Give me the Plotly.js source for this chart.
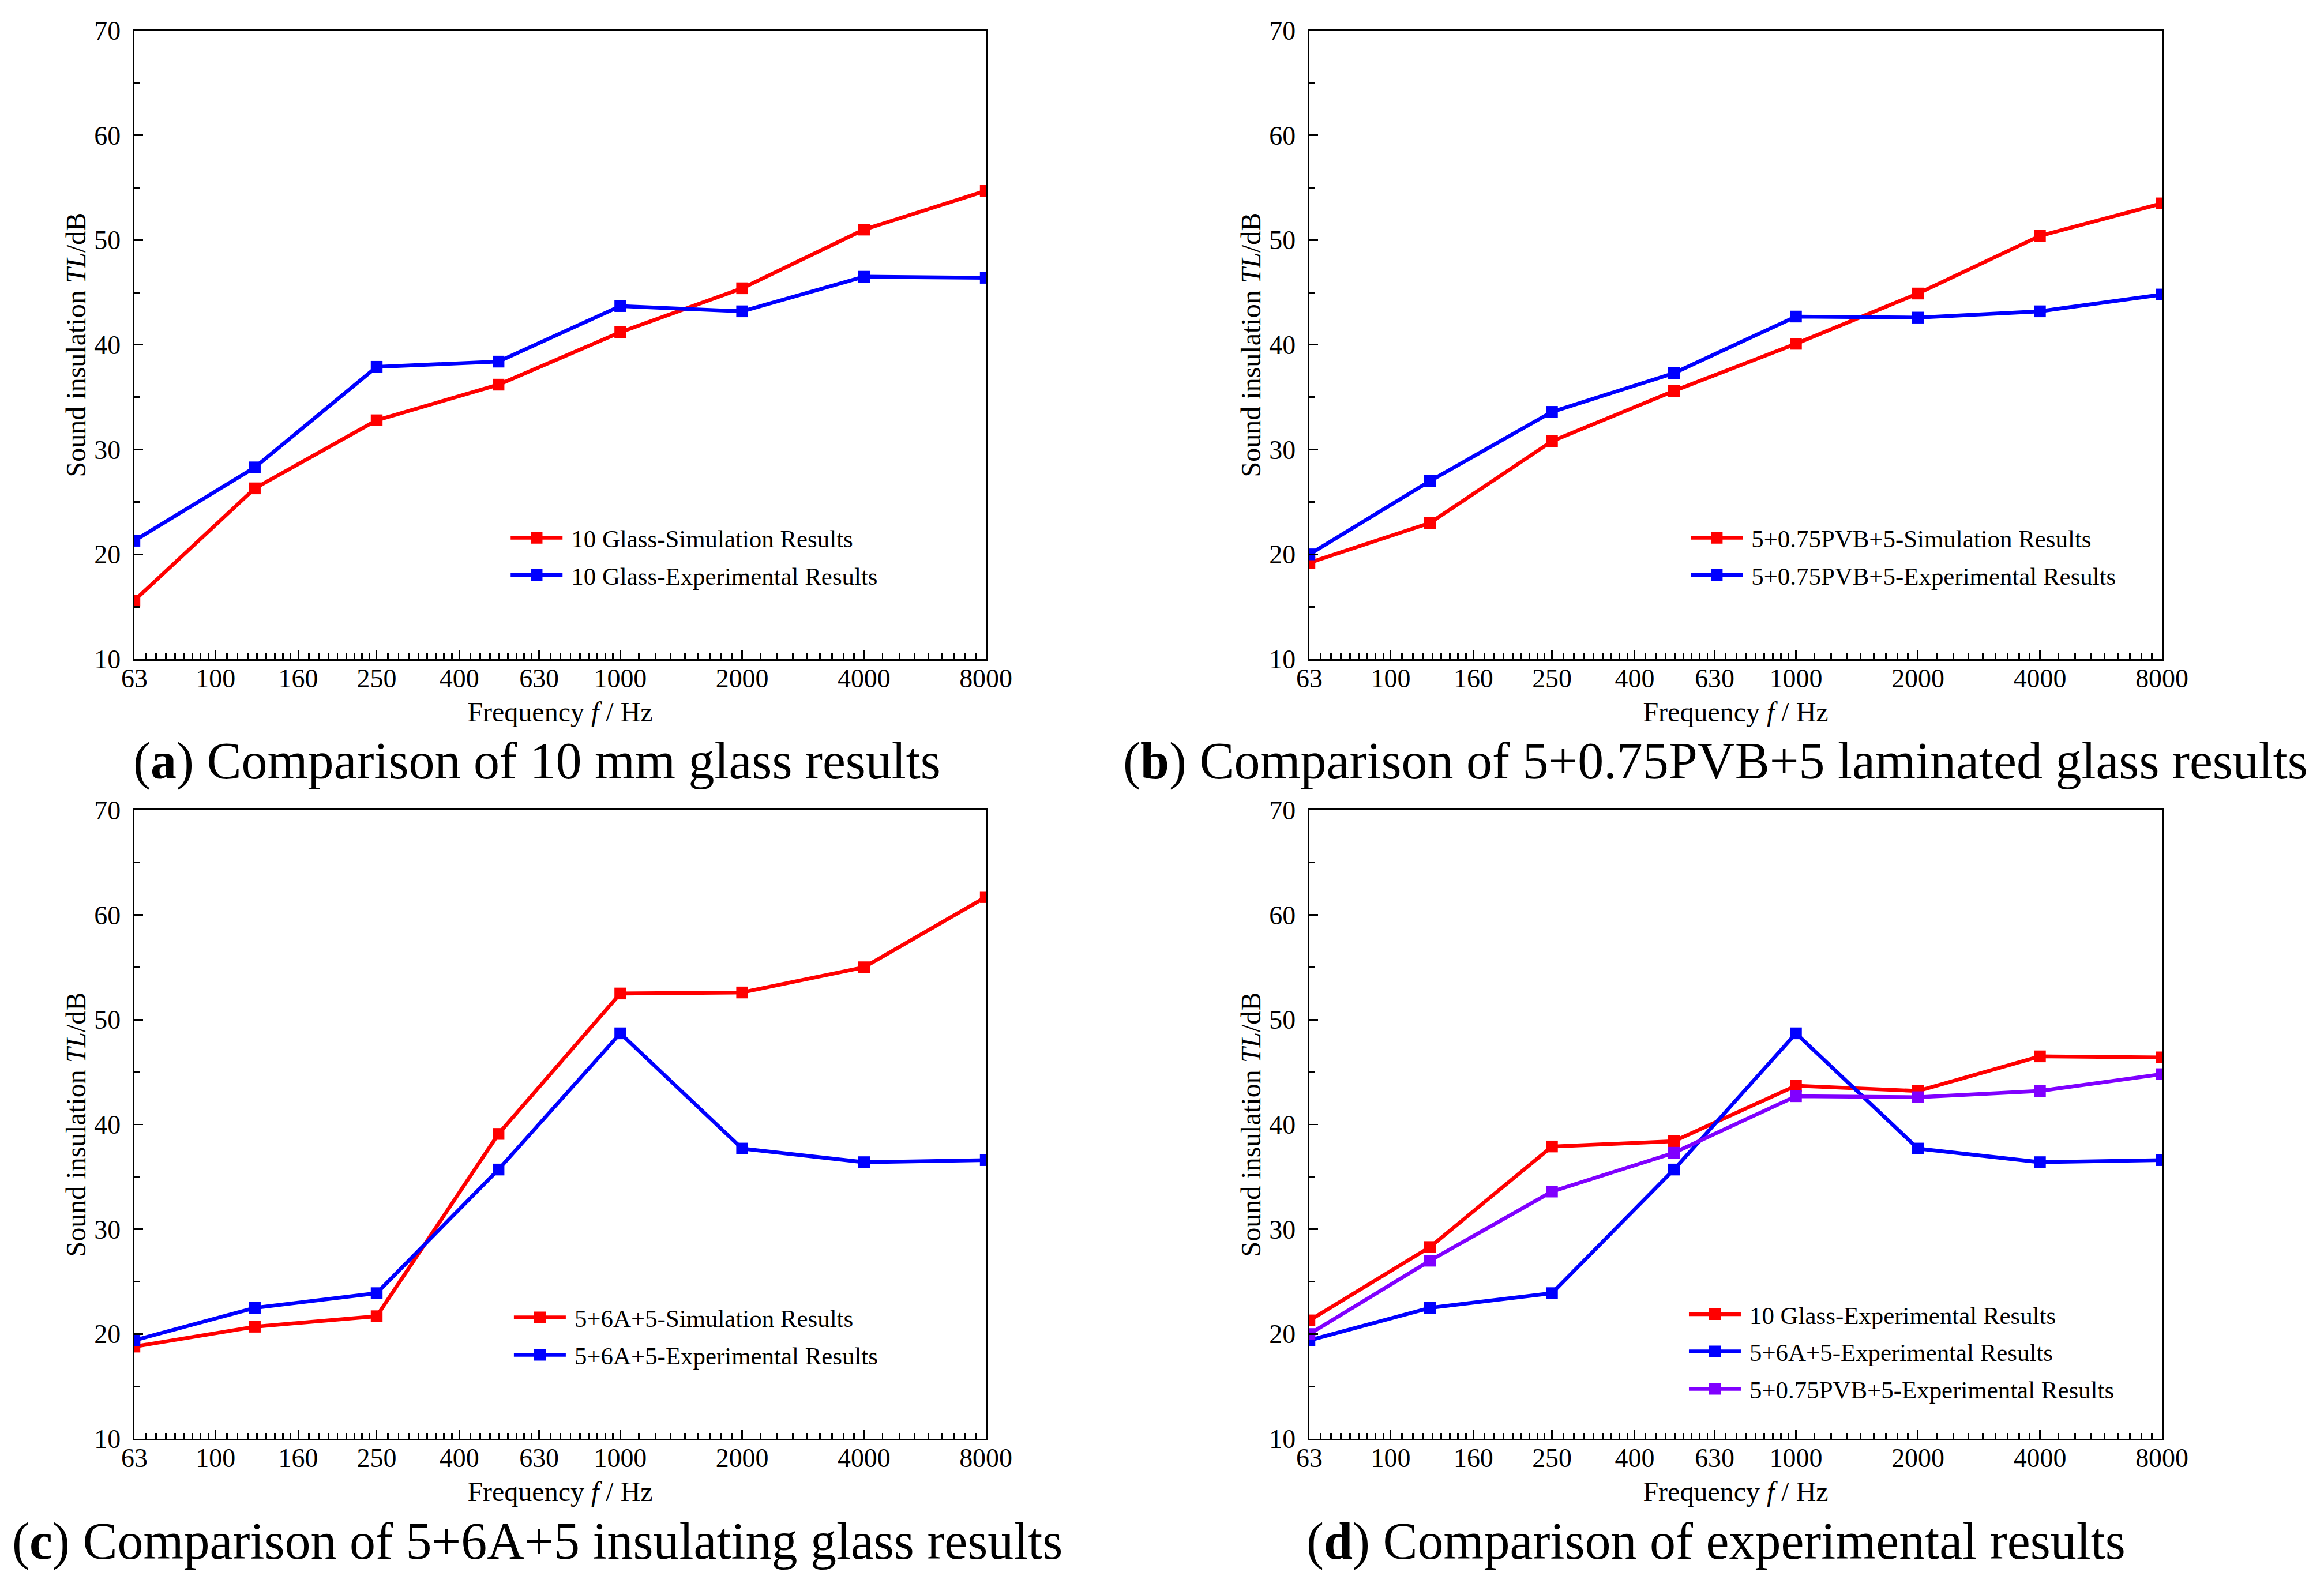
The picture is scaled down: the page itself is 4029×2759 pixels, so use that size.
<!DOCTYPE html>
<html>
<head>
<meta charset="utf-8">
<script src="https://cdn.plot.ly/plotly-3.0.1.min.js"></script>
<style>
  html, body { margin: 0; padding: 0; background: #fff; }
  #page { width: 4029px; height: 2759px; position: relative; overflow: hidden; }
  /* the figure is laid out at 1/3 size and scaled up so legend lines keep Origin-like proportions */
  #chart { position: absolute; left: 0; top: 0; width: 1343px; height: 920px;
           transform: scale(3); transform-origin: 0 0; }
</style>
</head>
<body>
<div id="page"><div id="chart"></div></div>
<script>
// frequencies (Hz) of the measured points
var freq = [63, 125, 250, 500, 1000, 2000, 4000, 8000];

// sound insulation TL (dB)
var glassSim = [15.6, 26.3, 32.8, 36.2, 41.2, 45.4, 51.0, 54.7];
var glassExp = [21.3, 28.3, 37.9, 38.4, 43.7, 43.2, 46.5, 46.4];
var pvbSim   = [19.2, 23.0, 30.8, 35.6, 40.1, 44.9, 50.4, 53.5];
var pvbExp   = [20.0, 27.0, 33.6, 37.3, 42.7, 42.6, 43.2, 44.8];
var insSim   = [18.8, 20.7, 21.7, 39.1, 52.5, 52.6, 55.0, 61.7];
var insExp   = [19.4, 22.5, 23.9, 35.7, 48.7, 37.7, 36.4, 36.6];

// axis ticks
var xTicks = [63, 100, 160, 250, 400, 630, 1000, 2000, 4000, 8000];
var yTicks = [10, 20, 30, 40, 50, 60, 70];

var captions = [
  '(<b>a</b>) Comparison of 10 mm glass results',
  '(<b>b</b>) Comparison of 5+0.75PVB+5 laminated glass results',
  '(<b>c</b>) Comparison of 5+6A+5 insulating glass results',
  '(<b>d</b>) Comparison of experimental results'
];

var FONT = '"Liberation Serif", "Times New Roman", serif';
var RED = '#ff0000', BLUE = '#0000ff', PURPLE = '#8000ff';

// 8 linear minor ticks between each pair of major ticks (Origin style)
var xMinor = [];
for (var i = 0; i < xTicks.length - 1; i++) {
  var a = xTicks[i], b = xTicks[i + 1];
  for (var k = 1; k < 9; k++) xMinor.push(a + (b - a) * k / 9);
}

function trace(y, name, color, n) {
  return {
    type: 'scatter', mode: 'lines+markers',
    x: freq, y: y, name: name,
    xaxis: 'x' + (n > 1 ? n : ''), yaxis: 'y' + (n > 1 ? n : ''),
    legend: 'legend' + (n > 1 ? n : ''),
    line: { color: color, width: 2.2 },
    marker: { color: color, symbol: 'square', size: 6.8 },
    cliponaxis: true
  };
}

var data = [
  trace(glassSim, '10 Glass-Simulation Results', RED, 1),
  trace(glassExp, '10 Glass-Experimental Results', BLUE, 1),
  trace(pvbSim, '5+0.75PVB+5-Simulation Results', RED, 2),
  trace(pvbExp, '5+0.75PVB+5-Experimental Results', BLUE, 2),
  trace(insSim, '5+6A+5-Simulation Results', RED, 3),
  trace(insExp, '5+6A+5-Experimental Results', BLUE, 3),
  trace(glassExp, '10 Glass-Experimental Results', RED, 4),
  trace(insExp, '5+6A+5-Experimental Results', BLUE, 4),
  trace(pvbExp, '5+0.75PVB+5-Experimental Results', PURPLE, 4)
];

function xax(domain, anchor) {
  return {
    type: 'log', domain: domain, anchor: anchor,
    range: [Math.log10(63), Math.log10(8000)],
    tickmode: 'array', tickvals: xTicks, ticktext: xTicks.map(String),
    ticks: 'inside', ticklen: 5, tickwidth: 0.9, tickcolor: '#000',
    minor: { tickmode: 'array', tickvals: xMinor, ticks: 'inside', ticklen: 3.3,
             tickwidth: 0.9, tickcolor: '#000', showgrid: false },
    showline: true, linecolor: '#000', linewidth: 0.9, mirror: true,
    showgrid: false, zeroline: false, automargin: false, fixedrange: true,
    ticklabelstandoff: -3,
    tickfont: { family: FONT, size: 15.3, color: '#000' },
    title: { text: 'Frequency <i>f</i> / Hz', standoff: 6,
             font: { family: FONT, size: 16, color: '#000' } }
  };
}

function yax(domain, anchor) {
  return {
    domain: domain, anchor: anchor, range: [10, 70],
    tickmode: 'array', tickvals: yTicks,
    ticks: 'inside', ticklen: 5, tickwidth: 0.9, tickcolor: '#000',
    minor: { dtick: 5, ticks: 'inside', ticklen: 3.3, tickwidth: 0.9,
             tickcolor: '#000', showgrid: false },
    showline: true, linecolor: '#000', linewidth: 0.9, mirror: true,
    showgrid: false, zeroline: false, automargin: false, fixedrange: true,
    ticklabelstandoff: 4,
    tickfont: { family: FONT, size: 15.3, color: '#000' },
    title: { text: 'Sound insulation <i>TL</i>/dB', standoff: 0,
             font: { family: FONT, size: 16, color: '#000' } }
  };
}

function leg(x, y) {
  return {
    x: x, y: y, xanchor: 'left', yanchor: 'top',
    bgcolor: 'rgba(0,0,0,0)', borderwidth: 0,
    font: { family: FONT, size: 14.3, color: '#000' },
    itemwidth: 30, tracegroupgap: 0, itemclick: false, itemdoubleclick: false
  };
}

var colL = [0.05783, 0.42418], colR = [0.56342, 0.93026];
var rowT = [0.58587, 0.98080], rowB = [0.09598, 0.49098];

var capX = [0.2315, 0.7384, 0.2315, 0.7384];
var capY = [0.5217, 0.5217, 0.0315, 0.0315];

var layout = {
  width: 1343, height: 920,
  margin: { l: 0, r: 0, t: 0, b: 0, pad: 0 },
  paper_bgcolor: '#fff', plot_bgcolor: '#fff',
  font: { family: FONT, color: '#000' },
  xaxis: xax(colL, 'y'),   yaxis: yax(rowT, 'x'),
  xaxis2: xax(colR, 'y2'), yaxis2: yax(rowT, 'x2'),
  xaxis3: xax(colL, 'y3'), yaxis3: yax(rowB, 'x3'),
  xaxis4: xax(colR, 'y4'), yaxis4: yax(rowB, 'x4'),
  legend: leg(0.2160, 0.6793),
  legend2: leg(0.7238, 0.6793),
  legend3: leg(0.2174, 0.1894),
  legend4: leg(0.7230, 0.1915),
  annotations: captions.map(function (t, i) {
    return { text: t, xref: 'paper', yref: 'paper', x: capX[i], y: capY[i],
             xanchor: 'center', yanchor: 'middle', showarrow: false,
             font: { family: FONT, size: 30, color: '#000' } };
  })
};

Plotly.newPlot('chart', data, layout, { displayModeBar: false, staticPlot: true });
</script>
</body>
</html>
